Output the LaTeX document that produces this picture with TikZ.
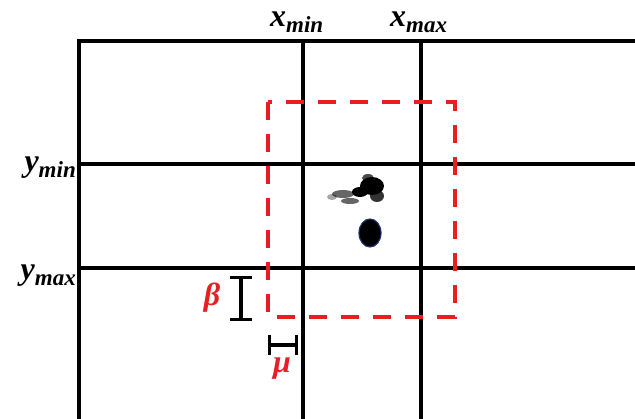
\documentclass[tikz,border=0pt]{standalone}
\usepackage{fontspec}
\usepackage[usenames,dvipsnames]{xcolor}
\usepackage{tikz}
\usetikzlibrary{arrows.meta, calc}

\newfontfamily\lblfont{Liberation Serif}
\definecolor{roired}{RGB}{232,30,36}
\definecolor{blobblue}{RGB}{30,50,110}
\newcommand{\lblsub}[2]{#1\raisebox{-6pt}{\fontsize{23}{24}\selectfont #2}}

\begin{document}
\begin{tikzpicture}[x=1pt, y=-1pt]

\tikzstyle{grid} = [line width=3.6pt, draw=black, line join=miter]
\tikzstyle{roi} = [line width=3.6pt, draw=roired, dash pattern=on 18pt off 14pt]
\tikzstyle{span} = [line width=3.2pt, draw=black, {Bar[width=22pt]}-{Bar[width=22pt]}]
\tikzstyle{lbl} = [font=\lblfont\bfseries\itshape\fontsize{32}{34}\selectfont, inner sep=0pt]
\tikzstyle{redlbl} = [lbl, text=roired]

\useasboundingbox (0,0) rectangle (635,419);

% grid
\coordinate (c0) at (79,41);
\coordinate (gx1) at (303,41);
\coordinate (gx2) at (421,41);
\coordinate (gy1) at (79,164);
\coordinate (gy2) at (79,268);
\draw [grid] (79,421) -- (c0) -- (637,41);
\draw [grid] (gx1) -- (303,421);
\draw [grid] (gx2) -- (421,421);
\draw [grid] (gy1) -- (637,164);
\draw [grid] (gy2) -- (637,268);

% dashed window
\draw [roi] (268,102) rectangle (455,317);

% offsets
\coordinate (b1) at (241,276);
\coordinate (b2) at (241,321);
\coordinate (m1) at (268,345);
\coordinate (m2) at (298,345);
\draw [span] (b1) -- (b2);
\draw [span, {Bar[width=20pt]}-{Bar[width=20pt]}] (m1) -- (m2);

% labels
\node (xmin) [lbl, anchor=base west] at (270,27) {\lblsub{x}{min}};
\node (xmax) [lbl, anchor=base west] at (390,27) {\lblsub{x}{max}};
\node (ymin) [lbl, anchor=base east] at (76,172) {\lblsub{y}{min}};
\node (ymax) [lbl, anchor=base east] at (76,280) {\lblsub{y}{max}};
\node (beta) [redlbl] at (212,298) {β};
\node (mu) [redlbl] at (282,369) {μ};

% blobs
\fill [black, opacity=0.35] (332,197) ellipse (5pt and 3pt);
\fill [black, opacity=0.6] (343,194) ellipse (11pt and 4pt);
\fill [black, opacity=0.6] (350,201) ellipse (9pt and 3pt);
\fill [black] (372,186) ellipse (12pt and 9pt);
\fill [black] (360,192) ellipse (8pt and 5pt);
\fill [black, opacity=0.8] (377,196) ellipse (7pt and 6pt);
\fill [black, opacity=0.7] (368,178) ellipse (6pt and 4pt);
\fill [black, draw=blobblue, line width=1.2pt] (370,233) ellipse (11pt and 14pt);
\end{tikzpicture}
\end{document}
